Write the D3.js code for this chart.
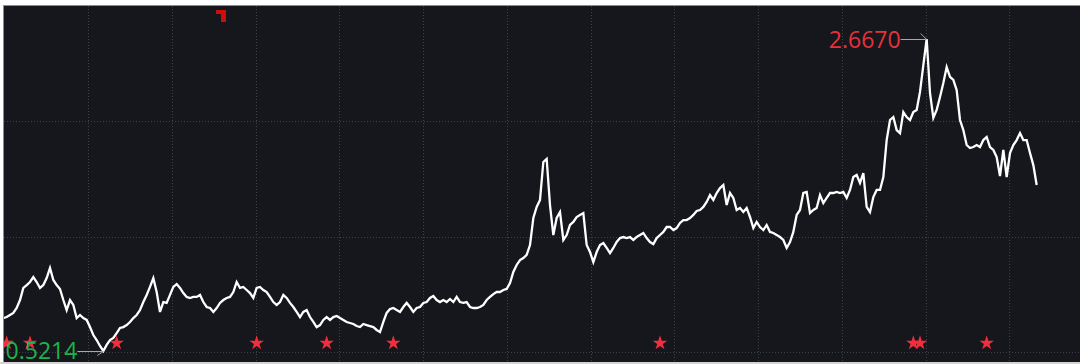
<!DOCTYPE html>
<html><head><meta charset="utf-8">
<script src="https://cdn.jsdelivr.net/npm/d3@7"></script>
<style>html,body{margin:0;padding:0;background:#fff;}svg{display:block;}</style>
</head><body>
<svg id="chart" width="1080" height="364"></svg>
<script>
// Series values (one value per trading step)
const values = [
0.748,0.755,0.769,0.783,0.817,0.872,0.955,0.975,0.996,1.030,
0.996,0.955,0.975,1.023,1.092,1.010,0.975,0.948,0.872,0.803,
0.872,0.838,0.748,0.769,0.748,0.735,0.686,0.631,0.597,0.556,
0.5214,0.563,0.597,0.611,0.645,0.680,0.686,0.700,0.721,0.748,
0.769,0.803,0.858,0.907,0.962,1.023,0.927,0.790,0.858,0.852,
0.907,0.962,0.982,0.955,0.920,0.893,0.886,0.893,0.893,0.907,
0.858,0.824,0.817,0.790,0.817,0.852,0.872,0.886,0.893,0.927,
0.996,0.955,0.962,0.941,0.920,0.886,0.955,0.962,0.941,0.927,
0.893,0.858,0.838,0.858,0.907,0.886,0.852,0.824,0.790,0.755,
0.790,0.803,0.755,0.721,0.686,0.700,0.735,0.755,0.735,0.755,
0.762,0.748,0.735,0.721,0.714,0.707,0.693,0.686,0.707,0.700,
0.693,0.686,0.666,0.652,0.721,0.783,0.810,0.817,0.803,0.790,
0.824,0.852,0.824,0.790,0.817,0.824,0.852,0.858,0.886,0.900,
0.872,0.858,0.872,0.858,0.879,0.858,0.893,0.858,0.852,0.858,
0.824,0.817,0.817,0.824,0.838,0.872,0.893,0.913,0.927,0.927,
0.941,0.948,0.989,1.065,1.113,1.147,1.161,1.182,1.250,1.436,
1.512,1.560,1.821,1.842,1.525,1.319,1.436,1.477,1.285,1.319,
1.388,1.409,1.443,1.457,1.470,1.250,1.202,1.133,1.202,1.250,
1.264,1.230,1.195,1.230,1.271,1.298,1.305,1.298,1.305,1.285,
1.305,1.319,1.333,1.298,1.271,1.257,1.298,1.319,1.340,1.374,
1.374,1.353,1.367,1.402,1.422,1.422,1.436,1.457,1.484,1.491,
1.512,1.546,1.594,1.560,1.608,1.642,1.663,1.525,1.608,1.574,
1.491,1.505,1.477,1.505,1.443,1.367,1.409,1.374,1.353,1.388,
1.340,1.333,1.319,1.305,1.285,1.230,1.271,1.340,1.457,1.491,
1.608,1.615,1.470,1.491,1.505,1.594,1.539,1.574,1.608,1.608,
1.615,1.608,1.615,1.574,1.629,1.718,1.732,1.677,1.745,1.512,
1.477,1.580,1.629,1.629,1.718,1.972,2.110,2.130,2.041,2.020,
2.165,2.130,2.110,2.165,2.179,2.303,2.488,2.667,2.296,2.124,
2.179,2.268,2.364,2.474,2.406,2.385,2.316,2.110,2.041,1.938,
1.917,1.924,1.938,1.924,1.972,1.993,1.924,1.904,1.855,1.725,
1.904,1.718,1.883,1.938,1.972,2.020,1.972,1.972,1.883,1.800,
1.663
];
// Indices of the star markers along the series
const starIndex = [1, 8, 34, 76, 97, 117, 197, 273, 275, 295];
// Horizontal grid values
const yGridValues = [0.514, 1.3085, 2.103];
// Extreme labels
const maxLabel = "2.6670";
const minLabel = "0.5214";

const W = 1080, H = 364;
const svg = d3.select("#chart");

const x = d3.scaleLinear().domain([0, values.length - 1]).range([10/3, 3110/3]);
const y = d3.scaleLinear().domain([0.5214, 2.667]).range([351, 39]);

// frame
svg.append("rect").attr("x",0).attr("y",0).attr("width",W).attr("height",H).attr("fill","#ffffff");
svg.append("rect").attr("x",4).attr("y",6).attr("width",W-4).attr("height",356).attr("fill","#15171c");
svg.append("line").attr("x1",3).attr("x2",W).attr("y1",5.5).attr("y2",5.5).attr("stroke","#8c8c8c").attr("stroke-width",1);
svg.append("line").attr("x1",3.5).attr("x2",3.5).attr("y1",5).attr("y2",362).attr("stroke","#8c8c8c").attr("stroke-width",1);
svg.append("rect").attr("x",0).attr("y",362).attr("width",W).attr("height",2).attr("fill","#d4d4d4");

const clip = svg.append("defs").append("clipPath").attr("id","plot");
clip.append("rect").attr("x",4).attr("y",6).attr("width",W-4).attr("height",356);
const g = svg.append("g").attr("clip-path","url(#plot)");

// grid
const vx = d3.range(12).map(j => 88 + 83.75 * j);
g.selectAll(".vg").data(vx).join("line")
  .attr("x1", d => Math.round(d) + 0.5).attr("x2", d => Math.round(d) + 0.5)
  .attr("y1", 6).attr("y2", 362)
  .attr("stroke", "#3e4148").attr("stroke-width", 1).attr("stroke-dasharray", "1,2");
g.selectAll(".hg").data(yGridValues).join("line")
  .attr("x1", 4).attr("x2", W)
  .attr("y1", d => Math.round(y(d)) + 0.5).attr("y2", d => Math.round(y(d)) + 0.5)
  .attr("stroke", "#3e4148").attr("stroke-width", 1).attr("stroke-dasharray", "1,2");

// red corner marker
g.append("path").attr("d","M216,10H226V22H221V14H216Z").attr("fill","#d10a0a");

// stars
const star = d3.symbol().type(d3.symbolStar).size(66);
g.selectAll(".star").data(starIndex).join("path")
  .attr("d", star)
  .attr("transform", d => `translate(${x(d)},343)`)
  .attr("fill", "#f22e3e");

// line
const line = d3.line().x((d, i) => x(i)).y(d => y(d));
g.append("path").datum(values).attr("d", line)
  .attr("fill", "none").attr("stroke", "#ffffff").attr("stroke-width", 2.3)
  .attr("stroke-linejoin", "miter");

// extremes
const iMax = d3.maxIndex(values), iMin = d3.minIndex(values);
const ax = x(iMax), ay = Math.round(y(values[iMax])) + 0.5;
g.append("path").attr("d", `M${ax-26},${ay}H${ax}M${ax-6},${ay-6}L${ax},${ay}`)
  .attr("fill","none").attr("stroke","#a8a8a8").attr("stroke-width",1);
g.append("text").attr("x", ax - 26).attr("y", ay + 8).attr("text-anchor","end")
  .attr("font-family","'Open Sans', 'Noto Sans', sans-serif").attr("font-size", 23)
  .attr("fill","#e8303a").text(maxLabel);

const bx = x(iMin), by = Math.round(y(values[iMin])) + 0.5;
g.append("path").attr("d", `M${bx-26},${by}H${bx}M${bx-6},${by+4}L${bx},${by}`)
  .attr("fill","none").attr("stroke","#a8a8a8").attr("stroke-width",1);
g.append("text").attr("x", bx - 26).attr("y", by + 7).attr("text-anchor","end")
  .attr("font-family","'Open Sans', 'Noto Sans', sans-serif").attr("font-size", 23)
  .attr("fill","#1db34a").text(minLabel);
</script>
</body></html>
